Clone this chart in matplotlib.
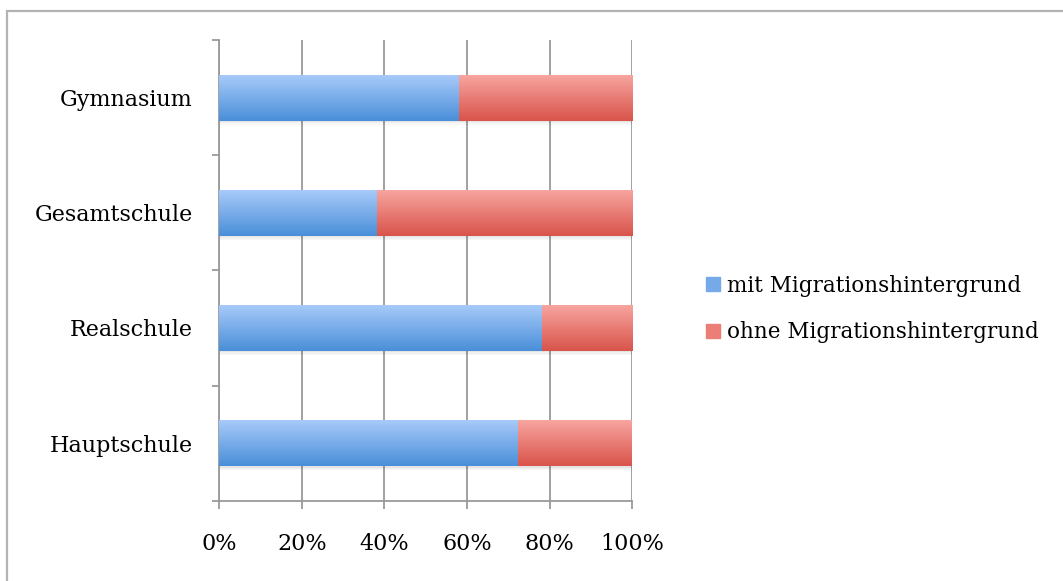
import numpy as np
import matplotlib
matplotlib.use("Agg")
from matplotlib import pyplot as plt
from matplotlib.patches import Rectangle

schools = ["Hauptschule", "Realschule", "Gesamtschule", "Gymnasium"]
mit = [72.4, 78.2, 38.2, 58.1]
ohne = [27.6, 21.8, 61.8, 41.9]
labels = ["mit Migrationshintergrund", "ohne Migrationshintergrund"]
xticks = [0, 20, 40, 60, 80, 100]

blue_top, blue_bot = "#a9cbfa", "#4a8fd9"
red_top, red_bot = "#f8a6a1", "#d9544b"
gridcol = "#9a9a9a"

plt.rcParams['font.family'] = ['DejaVu Serif']

fig = plt.figure(figsize=(10.63, 5.81), dpi=100)
ax = fig.add_axes([0.2063, 0.1382, 0.3885, 0.7930])

# frame round the whole chart
fig.patches.append(Rectangle((7 / 1063, -0.05), 1.1, 1 - 11 / 581 + 0.05,
                             transform=fig.transFigure, fill=False,
                             edgecolor="#b3b3b3", linewidth=1.6))


def grad(c1, c2, n=64):
    a = np.array(matplotlib.colors.to_rgb(c1))
    b = np.array(matplotlib.colors.to_rgb(c2))
    t = np.linspace(0, 1, n)[:, None]
    return (a * (1 - t) + b * t)[:, None, :]


ypos = np.arange(len(schools))
h = 0.4
b1 = ax.barh(ypos, mit, height=h, color=blue_bot, label=labels[0], zorder=3)
b2 = ax.barh(ypos, ohne, left=mit, height=h, color=red_bot, label=labels[1], zorder=3)

# vertical gradient + soft shadow on each bar
for bars, c1, c2 in [(b1, blue_top, blue_bot), (b2, red_top, red_bot)]:
    img = grad(c1, c2)
    for p in bars:
        x0, y0 = p.get_x(), p.get_y()
        w, hh = p.get_width(), p.get_height()
        for k, al in enumerate([0.10, 0.06, 0.03]):
            ax.add_patch(Rectangle((x0, y0 - 0.012 * (k + 1)), w, 0.012,
                                   color="black", alpha=al, lw=0, zorder=2))
        im = ax.imshow(img, extent=(x0, x0 + w, y0, y0 + hh), aspect="auto",
                       zorder=4, interpolation="bilinear")
        im.set_clip_path(p)

ax.set_xlim(0, 100)
ax.set_ylim(-0.5, 3.5)
ax.set_xticks(xticks)
ax.set_xticklabels([f"{v}%" for v in xticks])
ax.set_yticks(ypos)
ax.set_yticklabels(schools)
ax.set_yticks(np.arange(-0.5, 4, 1), minor=True)

ax.grid(axis="x", color=gridcol, linewidth=1.3, zorder=1)
ax.set_axisbelow(True)
for s in ["top", "right"]:
    ax.spines[s].set_visible(False)
for s in ["left", "bottom"]:
    ax.spines[s].set_color(gridcol)
    ax.spines[s].set_linewidth(1.3)

fs = 16
ax.tick_params(axis="y", which="major", length=0, pad=19, labelsize=fs)
ax.tick_params(axis="y", which="minor", length=5, width=1.3, color=gridcol)
ax.tick_params(axis="x", length=6, width=1.3, color=gridcol, pad=17, labelsize=fs)

leg = ax.legend(loc="center left", bbox_to_anchor=(687 / 1063, 1 - 309 / 581),
                bbox_transform=fig.transFigure, frameon=False, fontsize=15.5,
                handlelength=0.65, handleheight=0.65, handletextpad=0.3,
                labelspacing=1.15)
leg.legend_handles[0].set_color("#76a9ea")
leg.legend_handles[1].set_color("#ec7e78")

fig.savefig("out.png", dpi=100)
